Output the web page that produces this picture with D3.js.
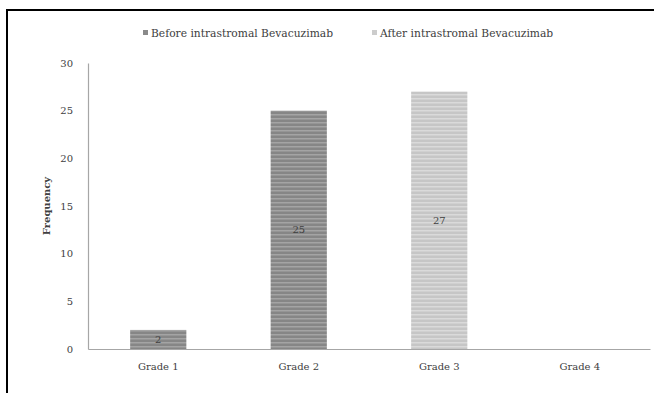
<!DOCTYPE html>
<html>
<head>
<meta charset="utf-8">
<script src="https://cdn.jsdelivr.net/npm/d3@7"></script>
<style>
  html, body { margin: 0; padding: 0; background: #fff; overflow: hidden; }
  svg { display: block; }
  text { font-family: "DejaVu Serif", "Liberation Serif", serif; fill: #404040; }
</style>
</head>
<body>
<svg id="chart" width="654" height="393"></svg>
<script>
// Frequency of each grade, before and after intrastromal injection
const grades = ["Grade 1", "Grade 2", "Grade 3", "Grade 4"];
const seriesNames = ["Before intrastromal Bevacuzimab", "After intrastromal Bevacuzimab"];
const beforeValues = [2, 25, 0, 0];
const afterValues = [0, 0, 27, 0];
const yTicks = [0, 5, 10, 15, 20, 25, 30];

const W = 654, H = 393;
const margin = { left: 88, right: 4, top: 63, bottom: 44 };
const svg = d3.select("#chart");
const FONT = '"DejaVu Serif", "Liberation Serif", serif';

// Striped fills for the two series
const defs = svg.append("defs");
function stripes(id, base, light) {
  const p = defs.append("pattern")
    .attr("id", id).attr("patternUnits", "userSpaceOnUse")
    .attr("width", 8).attr("height", 4);
  p.append("rect").attr("width", 8).attr("height", 4).attr("fill", base);
  p.append("rect").attr("y", 2).attr("width", 8).attr("height", 1.5).attr("fill", light);
}
stripes("stripeBefore", "#868686", "#a4a4a4");
stripes("stripeAfter", "#c6c6c6", "#dadada");
const fills = ["url(#stripeBefore)", "url(#stripeAfter)"];
const swatch = ["#8a8a8a", "#cccccc"];

// Outer frame
svg.append("rect")
  .attr("x", 7).attr("y", 10).attr("width", 700).attr("height", 450)
  .attr("fill", "none").attr("stroke", "#000").attr("stroke-width", 2);

const x = d3.scaleBand().domain(grades)
  .range([margin.left, W - margin.right]).paddingInner(0).paddingOuter(0);
const y = d3.scaleLinear().domain([0, 30]).range([H - margin.bottom, margin.top]);

// Y axis
const yAxis = svg.append("g")
  .attr("transform", `translate(${margin.left},0)`)
  .call(d3.axisLeft(y).tickValues(yTicks).tickSize(0).tickPadding(15));
yAxis.select(".domain").attr("stroke", "#a6a6a6").attr("stroke-width", 1.2);
yAxis.selectAll("text").style("font-size", "10px")
  .style("font-family", FONT).attr("fill", "#595959");

// Bars: each grade carries the series that has a value there
const barW = x.bandwidth() * 0.4;
const rows = [];
grades.forEach((g, i) => {
  [beforeValues, afterValues].forEach((vals, s) => {
    if (vals[i] > 0) rows.push({ g, v: vals[i], s });
  });
});
svg.append("g").selectAll("rect").data(rows).join("rect")
  .attr("x", d => x(d.g) + (x.bandwidth() - barW) / 2)
  .attr("y", d => y(d.v))
  .attr("width", barW)
  .attr("height", d => y(0) - y(d.v))
  .attr("fill", d => fills[d.s]);

// Value labels in the middle of each bar
svg.append("g").selectAll("text").data(rows).join("text")
  .attr("x", d => x(d.g) + x.bandwidth() / 2)
  .attr("y", d => (y(d.v) + y(0)) / 2)
  .attr("dy", "0.35em")
  .attr("text-anchor", "middle")
  .style("font-size", "10px")
  .attr("fill", "#404040")
  .text(d => d.v);

// X axis
const xAxis = svg.append("g")
  .attr("transform", `translate(0,${y(0)})`)
  .call(d3.axisBottom(x).tickSize(0).tickPadding(14));
xAxis.select(".domain").attr("stroke", "#a6a6a6").attr("stroke-width", 1.2);
xAxis.selectAll("text").style("font-size", "10px")
  .style("font-family", FONT).attr("fill", "#595959");

// Y axis title
svg.append("text")
  .attr("transform", `translate(50,${(y(0) + y(30)) / 2}) rotate(-90)`)
  .attr("text-anchor", "middle")
  .style("font-size", "10px").style("font-weight", "bold")
  .attr("fill", "#404040")
  .text("Frequency");

// Legend
const legendItems = [
  { name: seriesNames[0], x: 143 },
  { name: seriesNames[1], x: 372 }
];
const lg = svg.append("g").selectAll("g").data(legendItems).join("g")
  .attr("transform", d => `translate(${d.x},33)`);
lg.append("rect").attr("x", 0).attr("y", -3).attr("width", 5).attr("height", 5)
  .attr("fill", (d, i) => swatch[i]);
lg.append("text").attr("x", 8).attr("dy", "0.35em")
  .style("font-size", "10.7px").attr("fill", "#595959")
  .text(d => d.name);
</script>
</body>
</html>
